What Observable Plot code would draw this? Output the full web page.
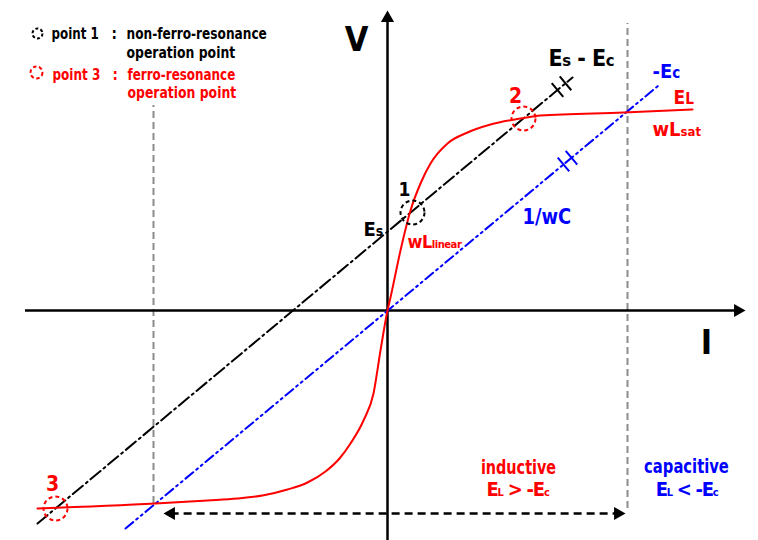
<!DOCTYPE html>
<html><head><meta charset="utf-8">
<script src="https://cdn.jsdelivr.net/npm/d3@7"></script>
<script src="https://cdn.jsdelivr.net/npm/@observablehq/plot@0.6"></script>
<style>body{margin:0;background:#fff}</style>
</head><body><div id="chart"></div>
<script>
// Magnetisation curve E_L (current I, voltage V)
const curveI = [-350,-232,-180,-150,-125,-100,-80,-62,-48,-37,-24,-14,-7,0,3,13,23,33,43,60,80,103,133,153,236,305];
const curveV = [-198,-193,-190,-188,-185,-179,-172,-161,-148,-133,-110,-83,-40,0,13,60,100,127,147,167,178,186,192,195,198,201];
// Es - Ec line (black) and -Ec line 1/wC (blue): end points
const esLineI = [-350, 185];
const esLineV = [-213, 233];
const ecLineI = [-262, 271];
const ecLineV = [-218, 225];
// capacitor tick marks (positions along the lines)
const esTicksI = [170, 178];
const ecTicksI = [176, 184];
// operation points
const opNames = ["1", "2", "3"];
const opI = [25, 136, -332];
const opV = [98, 192, -198];
const opColors = ["black", "red", "red"];
// region boundaries (gray dashed)
const boundI = [-234, 240];
const boundTop = [205, 287];
const boundBottom = [-193, -198];
// range arrow
const rangeI = [-224, 238];
const rangeV = -203;
// axes extents
const axisIExtent = [-362, 358];
const axisVExtent = [-230, 300];

// annotation texts and anchors
const labelsStart = [
  {t:"E{s}", I:-24, V:75, s:20, c:"black"},
  {t:"wL{linear}", I:20, V:63, s:18, c:"red"},
  {t:"1/wC", I:135, V:87, s:21, c:"blue"},
  {t:"E{s} - E{c}", I:161, V:245, s:23, c:"black"},
  {t:"-E{c}", I:265, V:233, s:20, c:"blue"},
  {t:"E{L}", I:286, V:207, s:19, c:"red"},
  {t:"wL{sat}", I:265, V:175, s:20, c:"red"},
  {t:"point 1", I:-336, V:272, s:15, c:"black"},
  {t:":", I:-276, V:272, s:15, c:"black"},
  {t:"non-ferro-resonance", I:-261, V:272, s:15, c:"black"},
  {t:"operation point", I:-261, V:253, s:15, c:"black"},
  {t:"point 3", I:-335, V:231, s:15, c:"red"},
  {t:":", I:-275, V:231, s:15, c:"red"},
  {t:"ferro-resonance", I:-260, V:231, s:15, c:"red"},
  {t:"operation point", I:-260, V:213, s:15, c:"red"}
];
const labelsMiddle = [
  {t:"V", I:-31, V:260, s:34, c:"black"},
  {t:"I", I:319, V:-43, s:34, c:"black"},
  {t:"1", I:17, V:115, s:19, c:"black"},
  {t:"2", I:128, V:208, s:21, c:"red"},
  {t:"3", I:-335, V:-180, s:21, c:"red"},
  {t:"inductive", I:131, V:-163, s:20, c:"red"},
  {t:"E{L} > -E{c}", I:130, V:-185, s:20, c:"red"},
  {t:"capacitive", I:299, V:-162, s:20, c:"blue"},
  {t:"E{L} < -E{c}", I:299, V:-185, s:20, c:"blue"}
];
const subRatio = {"E{s}":0.7, "wL{linear}":0.62, "E{s} - E{c}":0.72, "-E{c}":0.75, "E{L}":0.8, "wL{sat}":0.65,
  "E{L} > -E{c}":0.55, "E{L} < -E{c}":0.55};
// narrowing to imitate the condensed face of the original
const squeeze = {"1/wC":0.95, "inductive":0.8, "capacitive":0.82,
  "operation point":0.92, "ferro-resonance":0.885, "non-ferro-resonance":0.9, "point 1":0.88, "point 3":0.89};
const tighten = {"wL{linear}":-0.5, "E{s} - E{c}":-0.5, "E{L} > -E{c}":-1.2, "E{L} < -E{c}":-1.3};
const legendBlack = [{I:-350, V:277}];
const legendRed = [{I:-351, V:238}];

const FONT = '"Liberation Sans Narrow","Arial Narrow","DejaVu Sans Condensed",sans-serif';

const curve = curveI.map((d,i)=>({I:d, V:curveV[i]}));
const esLine = esLineI.map((d,i)=>({I:d, V:esLineV[i]}));
const ecLine = ecLineI.map((d,i)=>({I:d, V:ecLineV[i]}));
const ops = opNames.map((n,i)=>({n, I:opI[i], V:opV[i], c:opColors[i]}));

function ticksOn(line, Is, half){
  const m = (line[1].V-line[0].V)/(line[1].I-line[0].I);
  const n = Math.hypot(1, m);
  return Is.map(I=>{
    const V = line[0].V + m*(I-line[0].I);
    return {x1:I - half*m/n, y1:V + half/n, x2:I + half*m/n, y2:V - half/n};
  });
}
const esTicks = ticksOn(esLine, esTicksI, 9);
const ecTicks = ticksOn(ecLine, ecTicksI, 9);

const bounds = boundI.map((d,i)=>({I:d, top:boundTop[i], bottom:boundBottom[i]}));

// arrowheads: triangle symbol; centroid sits 2/3 of height behind tip
const AR = 4.9;
const triY = Math.sqrt(Math.PI*AR*AR/(3*Math.sqrt(3)));
const back = 2*triY;
const heads = [
  {I:axisIExtent[1]-back, V:0, rot:90},
  {I:0, V:axisVExtent[1]-back, rot:0},
  {I:rangeI[0]+back, V:rangeV, rot:-90},
  {I:rangeI[1]-back, V:rangeV, rot:90}
];

const svg = Plot.plot({
  width: 758, height: 540,
  marginTop: 0, marginBottom: 0, marginLeft: 0, marginRight: 0,
  x: {domain: [-387, 371], axis: null},
  y: {domain: [-230, 310], axis: null},
  color: {type: "identity"},
  style: {fontFamily: FONT, background: "white"},
  marks: [
    Plot.ruleX(bounds, {x:"I", y1:"bottom", y2:"top", stroke:"#8c8c8c", strokeWidth:2, strokeDasharray:"7,4"}),
    Plot.ruleY([0], {x1: axisIExtent[0], x2: axisIExtent[1]-back, stroke:"black", strokeWidth:2.5}),
    Plot.ruleX([0], {y1: axisVExtent[0], y2: axisVExtent[1]-back, stroke:"black", strokeWidth:2.5}),
    Plot.line(esLine, {x:"I", y:"V", stroke:"black", strokeWidth:2, strokeDasharray:"13,4,2,4"}),
    Plot.line(ecLine, {x:"I", y:"V", stroke:"blue", strokeWidth:2, strokeDasharray:"10,4,2,4,2,4"}),
    Plot.link(esTicks, {x1:"x1", y1:"y1", x2:"x2", y2:"y2", stroke:"black", strokeWidth:2}),
    Plot.link(ecTicks, {x1:"x1", y1:"y1", x2:"x2", y2:"y2", stroke:"blue", strokeWidth:2}),
    Plot.line(curve, {x:"I", y:"V", stroke:"red", strokeWidth:2, curve:"monotone-x"}),
    Plot.ruleY([rangeV], {x1: rangeI[0]+back, x2: rangeI[1]-back, stroke:"black", strokeWidth:2.5, strokeDasharray:"8,5"}),
    Plot.dot(heads, {x:"I", y:"V", rotate:"rot", symbol:"triangle", r:AR, fill:"black", stroke:null}),
    Plot.dot(ops, {x:"I", y:"V", r:12, stroke:"c", fill:"none", strokeWidth:2, strokeDasharray:"4,3"}),
    Plot.dot(legendBlack, {x:"I", y:"V", r:5, stroke:"black", fill:"none", strokeWidth:2, strokeDasharray:"3,2.2"}),
    Plot.dot(legendRed, {x:"I", y:"V", r:6, stroke:"red", fill:"none", strokeWidth:2, strokeDasharray:"3.5,2.5"}),
    Plot.text(labelsStart, {x:"I", y:"V", text:"t", fill:"c", fontSize:"s", textAnchor:"start", lineAnchor:"bottom", fontWeight:"bold"}),
    Plot.text(labelsMiddle, {x:"I", y:"V", text:"t", fill:"c", fontSize:"s", textAnchor:"middle", lineAnchor:"bottom", fontWeight:"bold"})
  ]
});
document.getElementById("chart").appendChild(svg);

d3.select(svg).selectAll("text").each(function(){
  const t = this.textContent;
  const sel = d3.select(this);
  if (tighten[t]) sel.attr("letter-spacing", tighten[t]);
  if (t.includes("{")) {
    const ratio = subRatio[t] || 0.65;
    sel.text(null);
    const re = /([^{]+)|\{([^}]*)\}/g;
    let m;
    while ((m = re.exec(t))) {
      if (m[1] !== undefined) sel.append("tspan").text(m[1]);
      else sel.append("tspan").attr("font-size", (ratio*100)+"%").text(m[2]);
    }
  }
  const k = squeeze[t];
  if (k && k !== 1) {
    const w = this.getComputedTextLength();
    sel.attr("textLength", w*k).attr("lengthAdjust", "spacingAndGlyphs");
  }
});
</script>
</body></html>
